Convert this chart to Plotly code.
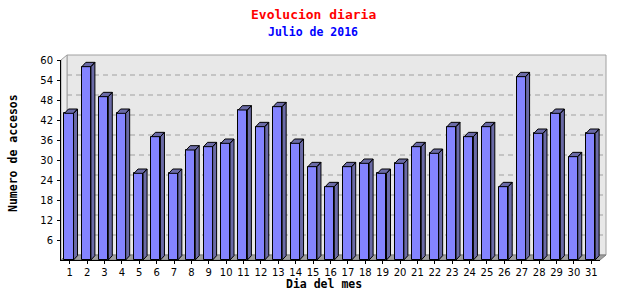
import plotly.graph_objects as go

# ---- data ----
days = [str(d) for d in range(1, 32)]
visits = [44, 58, 49, 44, 26, 37, 26, 33, 34, 35, 45, 40, 46, 35, 28, 22,
          28, 29, 26, 29, 34, 32, 40, 37, 40, 22, 55, 38, 44, 31, 38]
y_ticks = [6, 12, 18, 24, 30, 36, 42, 48, 54, 60]
title_text = "Evolucion diaria"
subtitle_text = "Julio de 2016"
y_title = "Numero de accesos"
x_title = "Dia del mes"

# ---- geometry / style ----
W, H = 640, 300
ML, MR, MT, MB = 61, 40, 60, 40
PW, PH = W - ML - MR, H - MT - MB
YMAX = 60
BAR_W = 0.52
BAR_OFF = -0.3
DX, DY = 0.23, 1.3          # bar depth (data units)
WALL_DXPX, WALL_DYPX = 6, 5  # back wall offset (pixels)
FRONT = "#8484ff"
SIDE = "#6a6aa6"
WALL = "#e8e8e8"
EDGE = "#a0a0a0"

idx = list(range(len(days)))

def px_x(px):
    return (px - ML) / PW

def px_y(py):
    return (H - MB - py) / PH

# side + top faces of the 3D bars
sx, sy = [], []
for i, v in zip(idx, visits):
    xl = i + BAR_OFF
    xr = xl + BAR_W
    sx += [xr, xr, xr + DX, xr + DX, xr, None]
    sy += [0, v, v + DY, DY, 0, None]
    sx += [xl, xl + DX, xr + DX, xr, xl, None]
    sy += [v, v + DY, v + DY, v, v, None]

fig = go.Figure()
fig.add_trace(go.Bar(
    x=idx, y=visits, width=BAR_W, offset=BAR_OFF,
    marker=dict(color=FRONT, line=dict(color="black", width=1)),
    hoverinfo="skip", showlegend=False))
fig.add_trace(go.Scatter(
    x=sx, y=sy, mode="lines", fill="toself", fillcolor=SIDE,
    line=dict(color="black", width=1), hoverinfo="skip", showlegend=False))

shapes = []
x0w, x1w = px_x(ML + WALL_DXPX), px_x(ML + PW + WALL_DXPX)
y0w, y1w = px_y(H - MB - WALL_DYPX), px_y(MT - WALL_DYPX)
shapes.append(dict(type="rect", xref="paper", yref="paper", x0=x0w, x1=x1w,
                   y0=y0w, y1=y1w, fillcolor=WALL, line=dict(color=EDGE, width=1),
                   layer="below"))
shapes.append(dict(type="path", xref="paper", yref="paper",
                   path=f"M 0 0 L {x0w} {y0w} L {x0w} {y1w} L 0 1 Z",
                   fillcolor="#ececec", line=dict(color=EDGE, width=1), layer="below"))
shapes.append(dict(type="path", xref="paper", yref="paper",
                   path=f"M 0 0 L 1 0 L {x1w} {y0w} L {x0w} {y0w} Z",
                   fillcolor=EDGE, line=dict(color="#808080", width=1), layer="below"))
for t in y_ticks[:-1]:
    yy = px_y(H - MB - WALL_DYPX - t * PH / YMAX)
    shapes.append(dict(type="line", xref="paper", yref="paper", x0=x0w, x1=x1w,
                       y0=yy, y1=yy, line=dict(color=EDGE, width=1, dash="5px,4px"),
                       layer="below"))

annotations = [
    dict(text="<b>" + title_text + "</b>", xref="paper", yref="paper", x=px_x(313), y=px_y(14),
         showarrow=False, font=dict(family="DejaVu Sans Mono", size=13, color="#ff0000"),
         xanchor="center", yanchor="middle"),
    dict(text="<b>" + subtitle_text + "</b>", xref="paper", yref="paper", x=px_x(313), y=px_y(32),
         showarrow=False, font=dict(family="DejaVu Sans Mono", size=11.5, color="#0000ff"),
         xanchor="center", yanchor="middle"),
    dict(text="<b>" + y_title + "</b>", xref="paper", yref="paper", x=px_x(13), y=px_y(153),
         showarrow=False, textangle=-90, font=dict(family="DejaVu Sans Mono", size=11.5, color="black"),
         xanchor="center", yanchor="middle"),
    dict(text="<b>" + x_title + "</b>", xref="paper", yref="paper", x=px_x(324), y=px_y(284),
         showarrow=False, font=dict(family="DejaVu Sans Mono", size=11.5, color="black"),
         xanchor="center", yanchor="middle"),
]

fig.update_layout(
    width=W, height=H, margin=dict(l=ML, r=MR, t=MT, b=MB),
    paper_bgcolor="white", plot_bgcolor="rgba(0,0,0,0)",
    shapes=shapes, annotations=annotations, showlegend=False, bargap=0,
    xaxis=dict(range=[-0.5, len(days) - 0.5], tickmode="array", tickvals=idx, ticktext=days,
               showgrid=False, zeroline=False, showline=True, linecolor="black", linewidth=1,
               ticks="outside", ticklen=3, tickcolor="black", ticklabelstandoff=0,
               tickfont=dict(family="DejaVu Sans", size=10, color="black")),
    yaxis=dict(range=[0, YMAX], tickmode="array", tickvals=y_ticks,
               showgrid=False, zeroline=False, showline=True, linecolor="black", linewidth=1,
               ticks="outside", ticklen=3, tickcolor="black", ticklabelstandoff=2,
               tickfont=dict(family="DejaVu Sans", size=10, color="black")),
)

fig.write_html("out.html")
